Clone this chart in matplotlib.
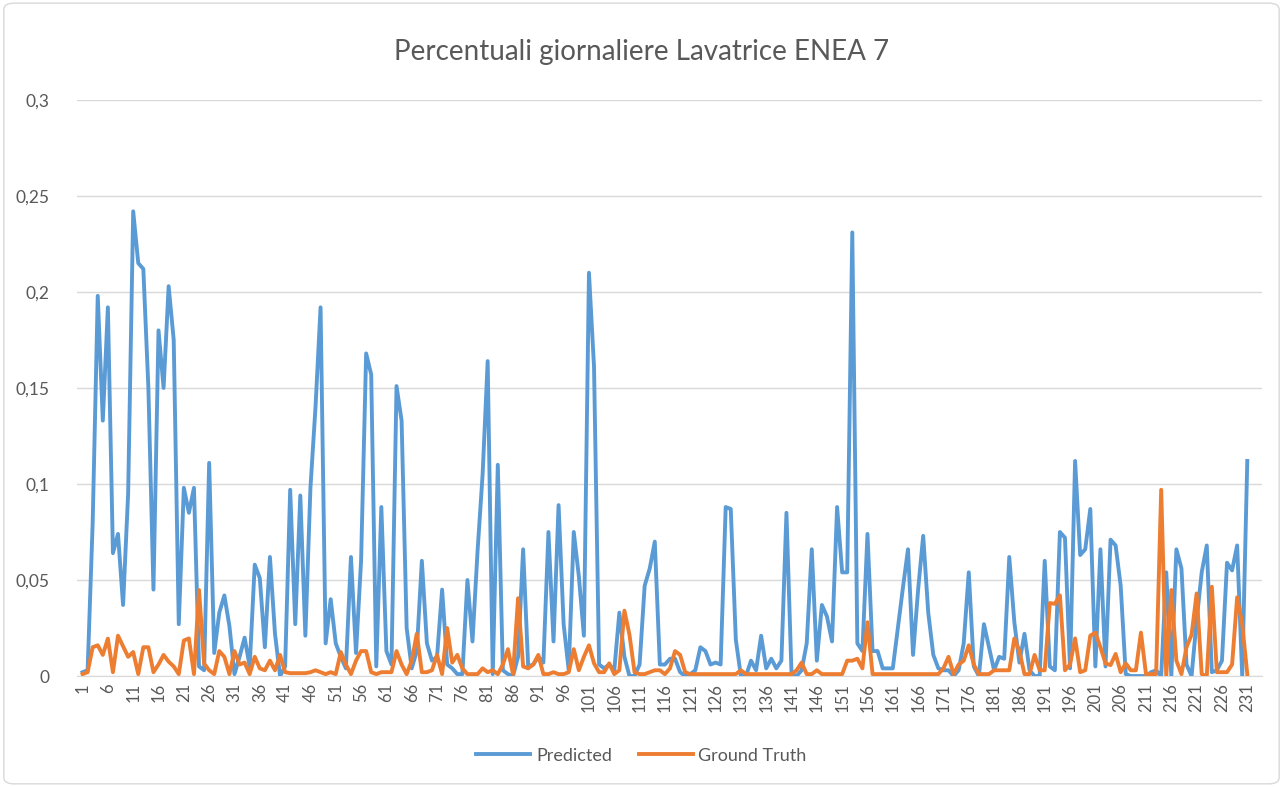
import matplotlib
matplotlib.use("Agg")
import matplotlib.pyplot as plt
from matplotlib.patches import FancyBboxPatch
from matplotlib.ticker import FuncFormatter

plt.rcParams['font.family'] = ['Lato', 'DejaVu Sans']

# giorni 1..231
giorni = list(range(1, 232))

predicted = [
    0.002, 0.003, 0.080, 0.198, 0.133, 0.192, 0.064, 0.074, 0.037, 0.095,  # 1-10
    0.242, 0.215, 0.212, 0.150, 0.045, 0.180, 0.150, 0.203, 0.175, 0.027,  # 11-20
    0.098, 0.085, 0.098, 0.005, 0.003, 0.111, 0.012, 0.033, 0.042, 0.026,  # 21-30
    0.001, 0.010, 0.020, 0.005, 0.058, 0.051, 0.015, 0.062, 0.022, 0.000,  # 31-40
    0.005, 0.097, 0.027, 0.094, 0.021, 0.098, 0.140, 0.192, 0.017, 0.040,  # 41-50
    0.017, 0.010, 0.004, 0.062, 0.012, 0.060, 0.168, 0.157, 0.005, 0.088,  # 51-60
    0.013, 0.006, 0.151, 0.133, 0.025, 0.004, 0.013, 0.060, 0.017, 0.008,  # 61-70
    0.010, 0.045, 0.006, 0.004, 0.001, 0.001, 0.050, 0.018, 0.065, 0.105,  # 71-80
    0.164, 0.001, 0.110, 0.003, 0.001, 0.000, 0.010, 0.066, 0.005, 0.006,  # 81-90
    0.010, 0.007, 0.075, 0.018, 0.089, 0.027, 0.003, 0.075, 0.052, 0.021,  # 91-100
    0.210, 0.161, 0.006, 0.004, 0.006, 0.003, 0.033, 0.010, 0.000, 0.000,  # 101-110
    0.006, 0.047, 0.056, 0.070, 0.006, 0.006, 0.009, 0.009, 0.002, 0.000,  # 111-120
    0.001, 0.003, 0.015, 0.013, 0.006, 0.007, 0.006, 0.088, 0.087, 0.019,  # 121-130
    0.000, 0.000, 0.008, 0.003, 0.021, 0.004, 0.009, 0.004, 0.008, 0.085,  # 131-140
    0.001, 0.000, 0.003, 0.017, 0.066, 0.008, 0.037, 0.031, 0.018, 0.088,  # 141-150
    0.054, 0.054, 0.231, 0.017, 0.013, 0.074, 0.013, 0.013, 0.004, 0.004,  # 151-160
    0.004, 0.025, 0.046, 0.066, 0.011, 0.045, 0.073, 0.033, 0.011, 0.004,  # 161-170
    0.003, 0.003, 0.000, 0.003, 0.017, 0.054, 0.005, 0.000, 0.027, 0.015,  # 171-180
    0.003, 0.010, 0.009, 0.062, 0.028, 0.007, 0.022, 0.003, 0.000, 0.000,  # 181-190
    0.060, 0.005, 0.003, 0.075, 0.072, 0.004, 0.112, 0.063, 0.066, 0.087,  # 191-200
    0.005, 0.066, 0.005, 0.071, 0.068, 0.047, 0.001, 0.000, 0.000, 0.000,  # 201-210
    0.000, 0.002, 0.003, 0.000, 0.054, 0.000, 0.066, 0.056, 0.006, 0.000,  # 211-220
    0.029, 0.054, 0.068, 0.002, 0.003, 0.008, 0.059, 0.055, 0.068, 0.000,  # 221-230
    0.112,                                                                 # 231
]

ground_truth = [
    0.001, 0.002, 0.015, 0.016, 0.011, 0.0195, 0.002, 0.021, 0.0155, 0.010,  # 1-10
    0.0125, 0.001, 0.015, 0.015, 0.002, 0.006, 0.011, 0.0075, 0.005, 0.001,  # 11-20
    0.0185, 0.0196, 0.001, 0.0448, 0.0065, 0.003, 0.001, 0.013, 0.010, 0.001,  # 21-30
    0.013, 0.006, 0.007, 0.001, 0.010, 0.004, 0.003, 0.008, 0.003, 0.011,  # 31-40
    0.002, 0.0015, 0.0015, 0.0015, 0.0015, 0.002, 0.003, 0.002, 0.001, 0.002,  # 41-50
    0.001, 0.0125, 0.006, 0.001, 0.008, 0.013, 0.013, 0.002, 0.001, 0.002,  # 51-60
    0.002, 0.002, 0.013, 0.006, 0.001, 0.008, 0.022, 0.002, 0.002, 0.003,  # 61-70
    0.011, 0.001, 0.025, 0.007, 0.011, 0.004, 0.001, 0.001, 0.001, 0.004,  # 71-80
    0.002, 0.003, 0.001, 0.006, 0.014, 0.001, 0.0405, 0.005, 0.004, 0.006,  # 81-90
    0.011, 0.001, 0.001, 0.002, 0.001, 0.001, 0.002, 0.014, 0.003, 0.010,  # 91-100
    0.016, 0.0066, 0.002, 0.002, 0.0066, 0.001, 0.003, 0.034, 0.0215, 0.002,  # 101-110
    0.001, 0.001, 0.002, 0.003, 0.003, 0.001, 0.004, 0.013, 0.011, 0.002,  # 111-120
    0.001, 0.001, 0.001, 0.001, 0.001, 0.001, 0.001, 0.001, 0.001, 0.001,  # 121-130
    0.003, 0.001, 0.001, 0.001, 0.001, 0.001, 0.001, 0.001, 0.001, 0.001,  # 131-140
    0.001, 0.003, 0.007, 0.001, 0.001, 0.003, 0.001, 0.001, 0.001, 0.001,  # 141-150
    0.001, 0.008, 0.008, 0.009, 0.004, 0.028, 0.001, 0.001, 0.001, 0.001,  # 151-160
    0.001, 0.001, 0.001, 0.001, 0.001, 0.001, 0.001, 0.001, 0.001, 0.001,  # 161-170
    0.004, 0.010, 0.001, 0.006, 0.008, 0.016, 0.006, 0.001, 0.001, 0.001,  # 171-180
    0.003, 0.003, 0.003, 0.003, 0.0196, 0.013, 0.001, 0.001, 0.011, 0.003,  # 181-190
    0.003, 0.038, 0.0376, 0.042, 0.003, 0.006, 0.0196, 0.002, 0.003, 0.021,  # 191-200
    0.0226, 0.015, 0.0066, 0.0057, 0.0115, 0.002, 0.0066, 0.003, 0.003, 0.0226,  # 201-210
    0.001, 0.001, 0.001, 0.097, 0.000, 0.0448, 0.008, 0.001, 0.015, 0.0215,  # 211-220
    0.043, 0.001, 0.000, 0.0465, 0.002, 0.002, 0.002, 0.006, 0.041, 0.027,  # 221-230
    0.001,                                                                 # 231
]

etichette_x = list(range(1, 232, 5))
valori_y = [0, 0.05, 0.1, 0.15, 0.2, 0.25, 0.3]

BLU = '#5B9BD5'
ARANCIO = '#ED7D31'
GRIGIO_TESTO = '#595959'
GRIGIO_GRIGLIA = '#D9D9D9'

fig = plt.figure(figsize=(12.83, 7.87), dpi=100)
ax = fig.add_axes([0.0604, 0.141, 0.9236, 0.732])

# cornice del grafico
fig.patches.append(FancyBboxPatch((0.003, 0.004), 0.994, 0.992,
                                  boxstyle="round,pad=0,rounding_size=0.008",
                                  transform=fig.transFigure, fill=False,
                                  edgecolor='#D9D9D9', linewidth=1.0))

ax.plot(giorni, predicted, color=BLU, linewidth=2.8, label='Predicted',
        solid_joinstyle='round', zorder=3)
ax.plot(giorni, ground_truth, color=ARANCIO, linewidth=2.8, label='Ground Truth',
        solid_joinstyle='round', zorder=4)

ax.set_xlim(0.0, 234.0)
ax.set_ylim(0, 0.3)
ax.set_yticks(valori_y)
ax.yaxis.set_major_formatter(FuncFormatter(
    lambda v, p: '0' if v == 0 else ('%g' % round(v, 2)).replace('.', ',')))
ax.set_xticks(etichette_x)
ax.set_xticklabels([str(e) for e in etichette_x], rotation=90)

ax.grid(axis='y', color=GRIGIO_GRIGLIA, linewidth=1.0)
ax.set_axisbelow(True)
for lato in ['top', 'right', 'left']:
    ax.spines[lato].set_visible(False)
ax.spines['bottom'].set_color(GRIGIO_GRIGLIA)
ax.tick_params(axis='both', length=0, colors=GRIGIO_TESTO)
ax.tick_params(axis='y', labelsize=12.5, pad=20)
ax.tick_params(axis='x', labelsize=12, pad=5)

fig.suptitle('Percentuali giornaliere Lavatrice ENEA 7', x=0.5, y=0.95,
             fontsize=20, color=GRIGIO_TESTO)

fig.legend(loc='center', bbox_to_anchor=(0.5, 0.04), ncol=2, frameon=False,
           fontsize=13, labelcolor=GRIGIO_TESTO, handlelength=3.0,
           handletextpad=0.3, columnspacing=1.5)

fig.savefig('out.png', dpi=100)
